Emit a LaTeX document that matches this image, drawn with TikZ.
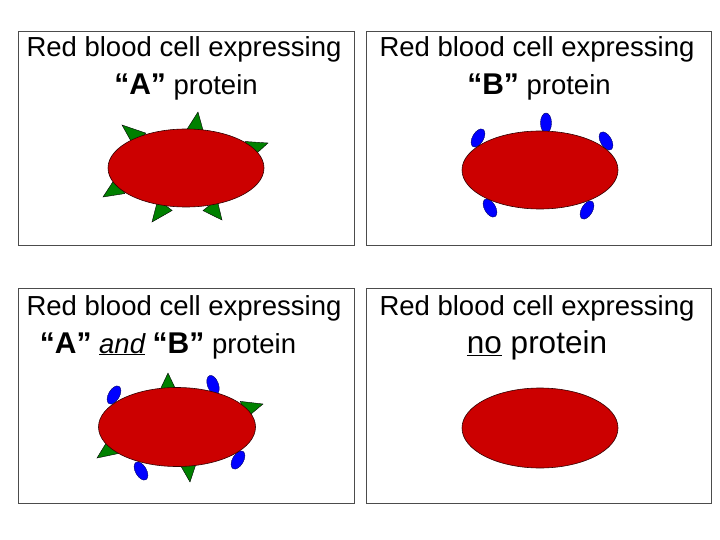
\documentclass[tikz,border=0pt]{standalone}
\usepackage{fontspec}
\setmainfont{Liberation Sans}
\usetikzlibrary{calc,shapes.geometric}
\begin{document}
\begin{tikzpicture}[x=1pt,y=-1pt,
  panel/.style={draw=black!70,line width=0.8pt,fill=white},
  cell/.style={draw=black!80!red,fill=red!80!black,line width=0.6pt},
  bprot/.style={draw=black!60!blue,fill=blue,line width=0.4pt},
  aprot/.style={draw=black,fill=green!50!black,line width=0.4pt},
  ttl/.style={font=\fontsize{27.5}{30}\selectfont,anchor=base},
  sub/.style={font=\fontsize{27.5}{30}\selectfont,anchor=base}]
\useasboundingbox (0,0) rectangle (720,540);
\node[panel,minimum width=336pt,minimum height=214pt,anchor=north west] (p1) at (18,31) {};
\node[panel,minimum width=345pt,minimum height=214pt,anchor=north west] (p2) at (366,31) {};
\node[panel,minimum width=336pt,minimum height=215pt,anchor=north west] (p3) at (18,288) {};
\node[panel,minimum width=345pt,minimum height=215pt,anchor=north west] (p4) at (366,288) {};
\node[ttl] (t1) at (184,57) {Red blood cell expressing};
\node[ttl] (t2) at (537,57) {Red blood cell expressing};
\node[ttl] (t3) at (184,315) {Red blood cell expressing};
\node[ttl] (t4) at (537,315) {Red blood cell expressing};
\node[sub] (s1) at (186,95) {{\fontsize{30}{32}\selectfont\bfseries “A”} protein};
\node[sub] (s2) at (539,95) {{\fontsize{30}{32}\selectfont\bfseries “B”} protein};
\node[sub] (s3) at (168,353) {{\fontsize{30}{32}\selectfont\bfseries “A”} \underline{\itshape and} {\fontsize{30}{32}\selectfont\bfseries “B”} protein};
\node[sub,font=\fontsize{31.5}{34}\selectfont] (s4) at (537,353) {\underline{no} protein};
% panel 1 triangles
\foreach \tx/\ty/\bx/\by in {122/125/140/140, 198/112/195/132, 268/143/248/150, 103/197/120/186, 152/222/165/205, 222/220/210/205}{
  \path (\bx,\by) coordinate (b) (\tx,\ty) coordinate (t);
  \draw[aprot] (t) -- ($(b)!9pt!90:(t)$) -- ($(b)!9pt!-90:(t)$) -- cycle;}
\node[cell,ellipse,minimum width=156pt,minimum height=78pt] (c1) at (186,168) {};
% panel 2 blue
\foreach \x/\y/\a in {478/138/-30, 546/123/0, 606/141/30, 490/208/30, 587/210/-30}
  \draw[bprot,rotate around={\a:(\x,\y)}] (\x,\y) ellipse (5.5pt and 10pt);
\node[cell,ellipse,minimum width=156pt,minimum height=78pt] (c2) at (540,170) {};
% panel 3
\foreach \x/\y/\a in {114/395/-30, 213/385/20, 238/460/-30, 141/471/30}
  \draw[bprot,rotate around={\a:(\x,\y)}] (\x,\y) ellipse (5.5pt and 10pt);
\foreach \tx/\ty/\bx/\by in {168/373/168/392, 263/404/243/410, 97/458/114/446, 190/482/188/462}{
  \path (\bx,\by) coordinate (b) (\tx,\ty) coordinate (t);
  \draw[aprot] (t) -- ($(b)!9pt!90:(t)$) -- ($(b)!9pt!-90:(t)$) -- cycle;}
\node[cell,ellipse,minimum width=157pt,minimum height=79pt] (c3) at (177,427) {};
% panel 4
\node[cell,ellipse,minimum width=156pt,minimum height=80pt] (c4) at (540,428) {};
\end{tikzpicture}
\end{document}
